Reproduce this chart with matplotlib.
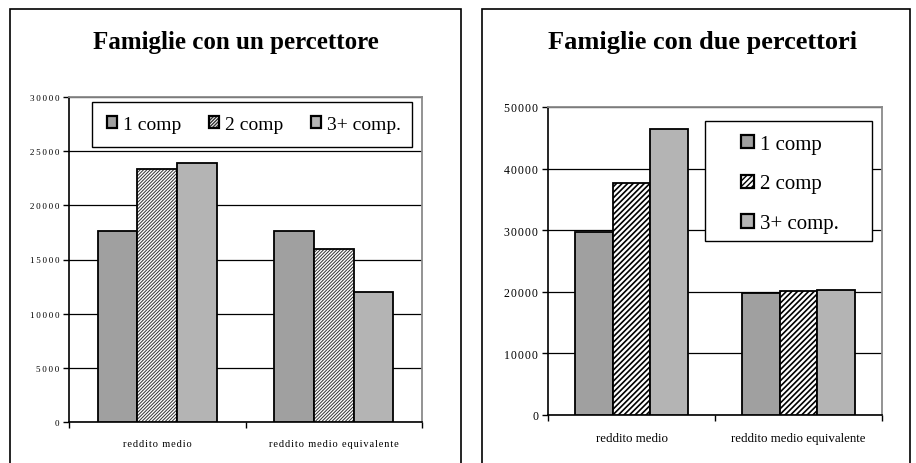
import numpy as np
import matplotlib
matplotlib.use("Agg")
from matplotlib import pyplot as plt
from matplotlib.patches import Rectangle
from matplotlib.ticker import FuncFormatter

plt.rcParams['font.family'] = ['Liberation Serif', 'DejaVu Serif']

# Data
categories = ["reddito medio", "reddito medio equivalente"]
series = ["1 comp", "2 comp", "3+ comp."]

one_earner_1comp = [17600, 17600]
one_earner_2comp = [23350, 15950]
one_earner_3comp = [23950, 12000]

two_earner_1comp = [29700, 19850]
two_earner_2comp = [37700, 20200]
two_earner_3comp = [46350, 20250]

W, H = 916, 464
fig = plt.figure(figsize=(W / 100, H / 100), dpi=100)


def px_axes(x0, y0, x1, y1):
    # pixel box (top-left origin) -> figure fraction
    return fig.add_axes([x0 / W, 1 - y1 / H, (x1 - x0) / W, (y1 - y0) / H])


def px_rect(x0, y0, x1, y1, lw):
    fig.patches.append(Rectangle((x0 / W, 1 - y1 / H), (x1 - x0) / W, (y1 - y0) / H,
                                 transform=fig.transFigure, fill=False,
                                 edgecolor="black", linewidth=lw, zorder=5))


def legend_box(ax, x0, y0, x1, y1):
    # white box under the legend, above bars and grid
    r = Rectangle((x0 / W, 1 - y1 / H), (x1 - x0) / W, (y1 - y0) / H,
                  transform=fig.transFigure, facecolor="white",
                  edgecolor="black", linewidth=1.0, zorder=4, clip_on=False)
    ax.add_patch(r)


def spaced(s, sp):
    return sp.join(s) if sp else s


def draw_panel(ax, vals, ymax, ystep, hatch, hatch_lw, hatch_col,
               tick_fs, tick_sp, cat_fs, cat_sp):
    x = np.arange(len(categories))
    bw = 0.225
    colors = ["#a0a0a0", "white", "#b4b4b4"]
    hatches = [None, hatch, None]
    for i, v in enumerate(vals):
        b = ax.bar(x + (i - 1) * bw, v, bw, color=colors[i], edgecolor="black",
                   linewidth=1.3, hatch=hatches[i], label=series[i], zorder=3)
        if hatches[i]:
            for p in b:
                p._hatch_linewidth = hatch_lw
                p._hatch_color = matplotlib.colors.to_rgba(hatch_col)
    ax.set_xlim(-0.5, 1.5)
    ax.set_ylim(0, ymax)
    ax.set_yticks(np.arange(0, ymax + 1, ystep))
    ax.yaxis.set_major_formatter(FuncFormatter(lambda v, p: spaced("%d" % v, tick_sp)))
    ax.tick_params(axis="y", labelsize=tick_fs, length=4, width=1, pad=3)
    ax.yaxis.grid(True, color="black", linewidth=0.9, zorder=0)
    ax.set_axisbelow(True)
    ax.set_xticks([-0.5, 0.5, 1.5])
    ax.set_xticklabels([])
    ax.set_xticks(x, minor=True)
    ax.set_xticklabels([spaced(c, cat_sp) for c in categories], minor=True, fontsize=cat_fs)
    ax.tick_params(axis="x", which="major", length=4, width=1)
    ax.tick_params(axis="x", which="minor", length=0, pad=12)
    for s in ["top", "right"]:
        ax.spines[s].set_color("#8a8a8a")
        ax.spines[s].set_linewidth(1.3)
    ax.spines["left"].set_linewidth(1.2)
    ax.spines["bottom"].set_linewidth(1.2)


# panel frames
px_rect(10, 10, 461, 470, 1.2)
px_rect(482, 10, 910, 470, 1.2)

# left panel
ax1 = px_axes(69, 98, 422, 423)
draw_panel(ax1, [one_earner_1comp, one_earner_2comp, one_earner_3comp],
           30000, 5000, "/" * 10, 0.7, "#333333", 6.5, "\u2009", 7.5, "\u200a")
fig.text(236 / W, 1 - 43 / H, "Famiglie con un percettore", ha="center", va="center",
         fontsize=18, fontweight="bold")
legend_box(ax1, 92, 103, 412, 148)
leg1 = ax1.legend(ncol=3, loc="center", bbox_to_anchor=((254 - 69) / 353, 1 - 27.5 / 325),
                  fontsize=14, frameon=False,
                  handlelength=0.55, handleheight=0.55, handletextpad=0.3,
                  columnspacing=1.4, borderpad=0, borderaxespad=0)

# right panel
ax2 = px_axes(548, 108, 882, 416)
draw_panel(ax2, [two_earner_1comp, two_earner_2comp, two_earner_3comp],
           50000, 10000, "//////", 1.2, "black", 8.5, "\u200a", 9.3, None)
fig.text(703 / W, 1 - 43 / H, "Famiglie con due percettori", ha="center", va="center",
         fontsize=19, fontweight="bold")
legend_box(ax2, 705, 122, 872, 242)
leg2 = ax2.legend(loc="center", bbox_to_anchor=((790 - 548) / 334, 1 - 77 / 308),
                  fontsize=15, frameon=False,
                  handlelength=0.6, handleheight=0.6, handletextpad=0.3,
                  labelspacing=1.0, borderpad=0, borderaxespad=0)

for leg in (leg1, leg2):
    leg.set_zorder(6)
    for h in leg.legend_handles:
        h.set_linewidth(1.6)

fig.savefig("out.png", dpi=100)
